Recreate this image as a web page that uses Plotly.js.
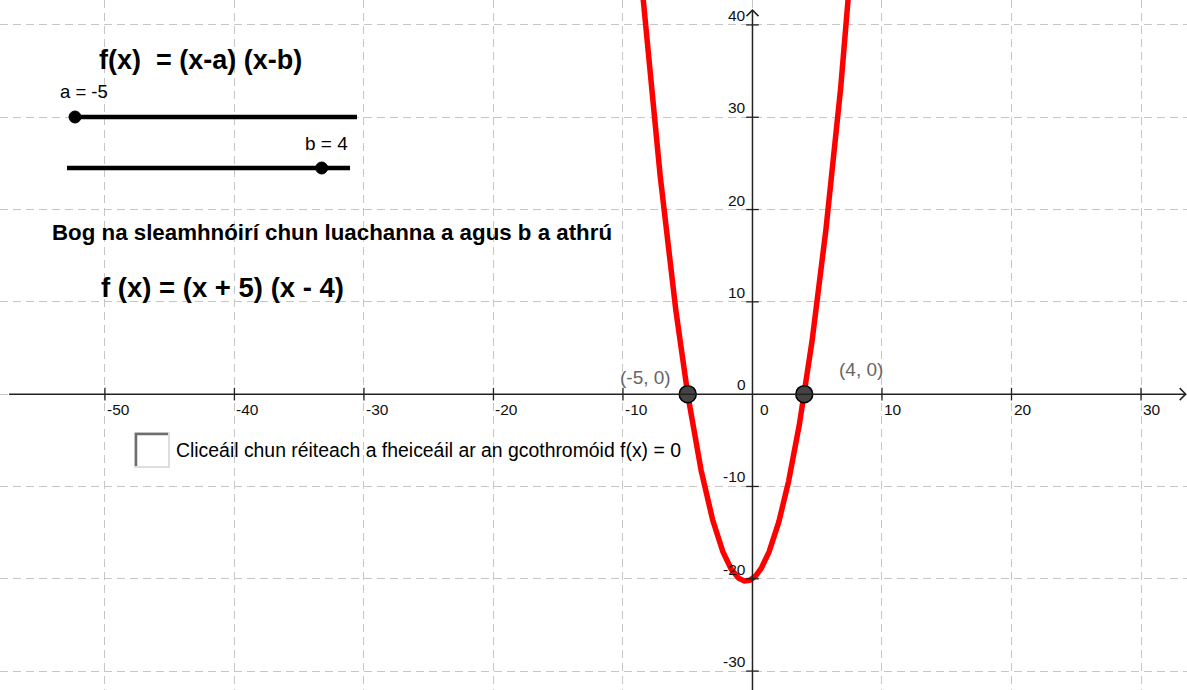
<!DOCTYPE html>
<html>
<head>
<meta charset="utf-8">
<script src="https://cdn.plot.ly/plotly-3.0.1.min.js"></script>
<style>
  html, body { margin: 0; padding: 0; background: #fff; }
  #plot { width: 1187px; height: 690px; }
</style>
</head>
<body>
<div id="plot"></div>
<script>
// Slider values for f(x) = (x - a)(x - b)
const a = -5;
const b = 4;
const sliderMin = -5;
const sliderMax = 5;

// Axis tick values
const xTicks = [-50, -40, -30, -20, -10, 0, 10, 20, 30];
const yTicks = [-30, -20, -10, 0, 10, 20, 30, 40];

const W = 1187, H = 690;
const FONT = 'Liberation Sans, Arial, sans-serif';

// Visible window of the graphics view
const xRange = [-58.1, 33.55];
const yRange = [-32.05, 42.7];

// Sample the parabola across the visible window
const f = x => (x - a) * (x - b);
const curveX = [];
const curveY = [];
for (let x = -10; x <= 9.0001; x += 0.02) {
  curveX.push(+x.toFixed(2));
  curveY.push(f(x));
}

const fmtFactor = r => (r < 0 ? `(x + ${-r})` : `(x - ${r})`);

// pixel -> paper helpers
const px = v => v / W;
const py = v => 1 - v / H;

const traces = [
  {
    x: curveX, y: curveY, mode: 'lines', type: 'scatter',
    line: { color: '#ff0000', width: 5.5 }, hoverinfo: 'skip'
  },
  {
    x: xTicks.filter(t => t !== 0), y: xTicks.filter(t => t !== 0).map(() => 0),
    mode: 'markers', type: 'scatter', hoverinfo: 'skip',
    marker: { symbol: 'line-ns', size: 9, line: { color: '#222', width: 1.3 } }
  },
  {
    x: yTicks.filter(t => t !== 0).map(() => 0), y: yTicks.filter(t => t !== 0),
    mode: 'markers', type: 'scatter', hoverinfo: 'skip',
    marker: { symbol: 'line-ew', size: 9, line: { color: '#222', width: 1.3 } }
  },
  {
    x: [a, b], y: [0, 0], mode: 'markers', type: 'scatter', hoverinfo: 'skip',
    marker: { size: 17, color: '#444444', line: { color: '#000', width: 1.5 } }
  }
];

const annotations = [];

// Tick labels next to the axes
xTicks.forEach(t => {
  annotations.push({
    x: t, y: 0, xref: 'x', yref: 'y', text: String(t), showarrow: false,
    xanchor: 'left', yanchor: 'top', xshift: t === 0 ? 6 : 0, yshift: -5,
    font: { family: FONT, size: 15.5, color: '#111' }
  });
});
yTicks.forEach(t => {
  annotations.push({
    x: 0, y: t, xref: 'x', yref: 'y', text: String(t), showarrow: false,
    xanchor: 'right', yanchor: 'bottom', xshift: -4, yshift: -1,
    font: { family: FONT, size: 15.5, color: '#111' }
  });
});

// Root labels
annotations.push({
  x: a, y: 0, xref: 'x', yref: 'y', text: `(${a}, 0)`, showarrow: false,
  xanchor: 'right', yanchor: 'middle', xshift: -15, yshift: 17,
  font: { family: FONT, size: 19, color: '#666' }
});
annotations.push({
  x: b, y: 0, xref: 'x', yref: 'y', text: `(${b}, 0)`, showarrow: false,
  xanchor: 'left', yanchor: 'middle', xshift: 33, yshift: 25,
  font: { family: FONT, size: 19, color: '#666' }
});

// Panel texts
const textItem = (x, y, text, size, bold) => ({
  x: px(x), y: py(y), xref: 'paper', yref: 'paper', text: bold ? `<b>${text}</b>` : text,
  showarrow: false, xanchor: 'left', yanchor: 'middle',
  font: { family: FONT, size: size, color: '#000' }
});
annotations.push(textItem(97, 60, 'f(x) \u00a0= (x-a) (x-b)', 27, true));
annotations.push(textItem(58, 92, `a = ${a}`, 18.5, false));
annotations.push(textItem(303, 143, `b = ${b}`, 19, false));
annotations.push(textItem(50, 232, 'Bog na sleamhnóirí chun luachanna a agus b a athrú', 22.3, true));
annotations.push(textItem(99, 287, `f (x) = ${fmtFactor(a)} ${fmtFactor(b)}`, 27.5, true));
annotations.push(textItem(174, 450, 'Cliceáil chun réiteach a fheiceáil ar an gcothromóid f(x) = 0', 19.4, false));

// Sliders
const sliders = [
  { value: a, x0: 75, x1: 357, y: 117 },
  { value: b, x0: 67, x1: 350, y: 168 }
];
const shapes = [];

// Coordinate axes with arrow ends
shapes.push({ type: 'line', xref: 'x', yref: 'y', x0: -57.4, x1: 33.45, y0: 0, y1: 0,
  line: { color: '#222', width: 1.5 } });
shapes.push({ type: 'line', xref: 'x', yref: 'y', x0: 0, x1: 0, y0: yRange[0], y1: 41.6,
  line: { color: '#222', width: 1.5 } });
shapes.push({ type: 'path', xref: 'x', yref: 'y', xsizemode: 'pixel', ysizemode: 'pixel',
  xanchor: 33.45, yanchor: 0, path: 'M-6,-6 L0,0 L-6,6',
  line: { color: '#222', width: 1.5 } });
shapes.push({ type: 'path', xref: 'x', yref: 'y', xsizemode: 'pixel', ysizemode: 'pixel',
  xanchor: 0, yanchor: 41.6, path: 'M-6,-6 L0,0 L6,-6',
  line: { color: '#222', width: 1.5 } });

sliders.forEach(s => {
  shapes.push({ type: 'line', xref: 'paper', yref: 'paper',
    x0: px(s.x0), x1: px(s.x1), y0: py(s.y), y1: py(s.y),
    line: { color: '#000', width: 4.5 } });
  const cx = s.x0 + (s.value - sliderMin) / (sliderMax - sliderMin) * (s.x1 - s.x0);
  shapes.push({ type: 'circle', xref: 'paper', yref: 'paper',
    x0: px(cx - 6), x1: px(cx + 6), y0: py(s.y + 6), y1: py(s.y - 6),
    fillcolor: '#000', line: { color: '#000', width: 1 } });
});

// Checkbox
shapes.push({ type: 'rect', xref: 'paper', yref: 'paper',
  x0: px(135), x1: px(169), y0: py(467), y1: py(433),
  fillcolor: '#fff', line: { color: '#d4d4d4', width: 1.5 } });
shapes.push({ type: 'path', xref: 'paper', yref: 'paper',
  path: `M${px(136)},${py(466)} L${px(136)},${py(434)} L${px(168)},${py(434)}`,
  line: { color: '#6e6e6e', width: 2.5 } });

const axisCommon = {
  showgrid: true, gridcolor: '#c6c6c6', gridwidth: 1, griddash: '8px,5px',
  dtick: 10, tick0: 0, zeroline: false, showticklabels: false, ticks: '',
  showline: false, fixedrange: true
};

const layout = {
  width: W, height: H,
  margin: { l: 0, r: 0, t: 0, b: 0 },
  paper_bgcolor: '#fff', plot_bgcolor: '#fff',
  showlegend: false,
  xaxis: Object.assign({ range: xRange }, axisCommon),
  yaxis: Object.assign({ range: yRange }, axisCommon),
  shapes: shapes,
  annotations: annotations
};

Plotly.newPlot('plot', traces, layout, { displayModeBar: false, staticPlot: true });
</script>
</body>
</html>
